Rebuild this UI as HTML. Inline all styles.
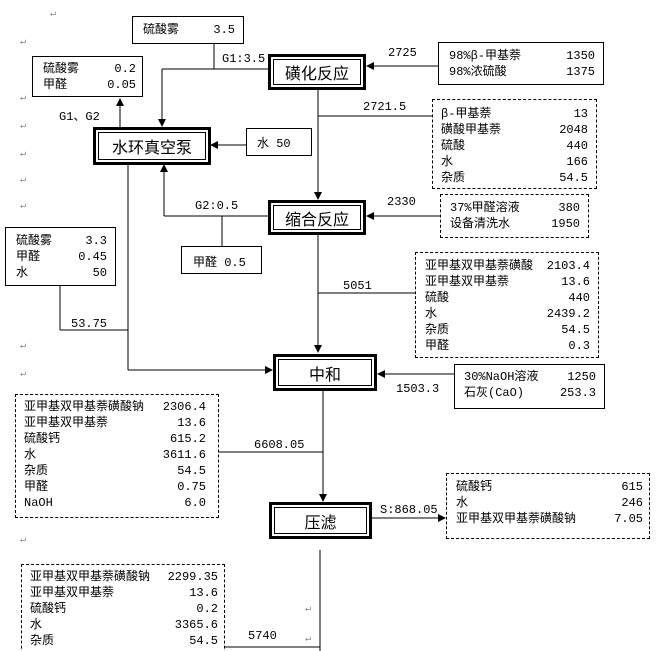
<!DOCTYPE html>
<html><head><meta charset="utf-8"><style>
body{margin:0;background:#fff;}
#c{position:relative;width:658px;height:651px;overflow:hidden;font-family:"Liberation Mono","Noto Sans CJK SC",monospace;font-size:12px;color:#000;}
.b{position:absolute;box-sizing:border-box;border:1px solid #000;background:#fff;}
.d{border:1px dashed #000;}
.r{display:flex;justify-content:space-between;line-height:16px;white-space:nowrap;}
.t{position:absolute;white-space:nowrap;line-height:14px;}
.dbl{position:absolute;box-sizing:border-box;border:3px solid #000;background:#fff;}
.dbl>div{position:absolute;left:2px;top:2px;right:2px;bottom:2px;border:1px solid #000;display:flex;align-items:center;justify-content:center;font-family:"Noto Sans CJK SC",sans-serif;font-size:16px;}
.m{color:#888;font-size:10px;}
</style></head><body><div id="c">
<svg width="658" height="651" style="position:absolute;left:0;top:0">
<defs><marker id="a" markerWidth="8" markerHeight="8" refX="7" refY="4" orient="auto" markerUnits="userSpaceOnUse"><path d="M0,0 L8,4 L0,8z" fill="#000"/></marker></defs>
<g stroke="#000" stroke-width="1" fill="none">
<line x1="318" y1="89" x2="318" y2="199" marker-end="url(#a)"/>
<line x1="318" y1="116" x2="432" y2="116"/>
<line x1="268" y1="69" x2="162" y2="69"/>
<line x1="162" y1="69" x2="162" y2="126" marker-end="url(#a)"/>
<line x1="214" y1="44" x2="214" y2="69"/>
<line x1="120" y1="127" x2="120" y2="99" marker-end="url(#a)"/>
<line x1="246" y1="145" x2="211" y2="145" marker-end="url(#a)"/>
<line x1="268" y1="216" x2="164" y2="216"/>
<line x1="164" y1="216" x2="164" y2="165" marker-end="url(#a)"/>
<line x1="222" y1="216" x2="222" y2="246"/>
<line x1="438" y1="66" x2="367" y2="66" marker-end="url(#a)"/>
<line x1="440" y1="216" x2="367" y2="216" marker-end="url(#a)"/>
<line x1="318" y1="234" x2="318" y2="352" marker-end="url(#a)"/>
<line x1="318" y1="293" x2="415" y2="293"/>
<line x1="128" y1="164" x2="128" y2="370"/>
<line x1="128" y1="370" x2="272" y2="370" marker-end="url(#a)"/>
<line x1="60" y1="286" x2="60" y2="330"/>
<line x1="60" y1="330" x2="128" y2="330"/>
<line x1="454" y1="374" x2="378" y2="374" marker-end="url(#a)"/>
<line x1="323" y1="390" x2="323" y2="501" marker-end="url(#a)"/>
<line x1="219" y1="452" x2="323" y2="452"/>
<line x1="372" y1="518" x2="445" y2="518" marker-end="url(#a)"/>
<line x1="320" y1="550" x2="320" y2="651"/>
<line x1="225" y1="647" x2="320" y2="647"/>
<line x1="22" y1="511" x2="158" y2="511"/>
<line x1="167" y1="511" x2="207" y2="511"/>
</g></svg>

<div class="b" style="left:132px;top:16px;width:112px;height:28px;padding:5px 8px 0 10px"><div class="r"><span>硫酸雾</span><span>3.5</span></div></div>
<div class="b" style="left:32px;top:56px;width:111px;height:41px;padding:4px 6px 0 10px"><div class="r"><span>硫酸雾</span><span>0.2</span></div><div class="r"><span>甲醛</span><span>0.05</span></div></div>
<div class="dbl" style="left:268px;top:54px;width:98px;height:36px"><div>磺化反应</div></div>
<div class="b" style="left:438px;top:42px;width:166px;height:43px;padding:5px 8px 0 10px"><div class="r"><span>98%β-甲基萘</span><span>1350</span></div><div class="r"><span>98%浓硫酸</span><span>1375</span></div></div>
<div class="dbl" style="left:93px;top:127px;width:118px;height:38px"><div>水环真空泵</div></div>
<div class="b" style="left:246px;top:128px;width:66px;height:28px;padding:5px 0 0 10px">水 50</div>
<div class="b d" style="left:432px;top:99px;width:165px;height:90px;padding:6px 8px 0 8px"><div class="r"><span>β-甲基萘</span><span>13</span></div><div class="r"><span>磺酸甲基萘</span><span>2048</span></div><div class="r"><span>硫酸</span><span>440</span></div><div class="r"><span>水</span><span>166</span></div><div class="r"><span>杂质</span><span>54.5</span></div></div>
<div class="dbl" style="left:268px;top:200px;width:98px;height:35px"><div>缩合反应</div></div>
<div class="b d" style="left:440px;top:194px;width:149px;height:44px;padding:5px 8px 0 9px"><div class="r"><span>37%甲醛溶液</span><span>380</span></div><div class="r"><span>设备清洗水</span><span>1950</span></div></div>
<div class="b" style="left:181px;top:246px;width:81px;height:28px;padding:6px 0 0 11px">甲醛 0.5</div>
<div class="b" style="left:5px;top:227px;width:111px;height:59px;padding:5px 8px 0 10px"><div class="r"><span>硫酸雾</span><span>3.3</span></div><div class="r"><span>甲醛</span><span>0.45</span></div><div class="r"><span>水</span><span>50</span></div></div>
<div class="b d" style="left:415px;top:252px;width:184px;height:106px;padding:5px 8px 0 9px"><div class="r"><span>亚甲基双甲基萘磺酸</span><span>2103.4</span></div><div class="r"><span>亚甲基双甲基萘</span><span>13.6</span></div><div class="r"><span>硫酸</span><span>440</span></div><div class="r"><span>水</span><span>2439.2</span></div><div class="r"><span>杂质</span><span>54.5</span></div><div class="r"><span>甲醛</span><span>0.3</span></div></div>
<div class="dbl" style="left:273px;top:354px;width:104px;height:37px"><div>中和</div></div>
<div class="b" style="left:454px;top:364px;width:151px;height:45px;padding:4px 8px 0 9px"><div class="r"><span>30%NaOH溶液</span><span>1250</span></div><div class="r"><span>石灰(CaO)</span><span>253.3</span></div></div>
<div class="b d" style="left:15px;top:394px;width:204px;height:124px;padding:4px 12px 0 8px"><div class="r"><span>亚甲基双甲基萘磺酸钠</span><span>2306.4</span></div><div class="r"><span>亚甲基双甲基萘</span><span>13.6</span></div><div class="r"><span>硫酸钙</span><span>615.2</span></div><div class="r"><span>水</span><span>3611.6</span></div><div class="r"><span>杂质</span><span>54.5</span></div><div class="r"><span>甲醛</span><span>0.75</span></div><div class="r"><span>NaOH</span><span>6.0</span></div></div>
<div class="dbl" style="left:269px;top:502px;width:103px;height:37px"><div>压滤</div></div>
<div class="b d" style="left:446px;top:473px;width:204px;height:66px;padding:5px 6px 0 9px"><div class="r"><span>硫酸钙</span><span>615</span></div><div class="r"><span>水</span><span>246</span></div><div class="r"><span>亚甲基双甲基萘磺酸钠</span><span>7.05</span></div></div>
<div class="b d" style="left:21px;top:564px;width:204px;height:100px;padding:4px 6px 0 8px"><div class="r"><span>亚甲基双甲基萘磺酸钠</span><span>2299.35</span></div><div class="r"><span>亚甲基双甲基萘</span><span>13.6</span></div><div class="r"><span>硫酸钙</span><span>0.2</span></div><div class="r"><span>水</span><span>3365.6</span></div><div class="r"><span>杂质</span><span>54.5</span></div></div>

<div class="t" style="left:222px;top:52px">G1:3.5</div>
<div class="t" style="left:59px;top:110px">G1、G2</div>
<div class="t" style="left:388px;top:46px">2725</div>
<div class="t" style="left:363px;top:100px">2721.5</div>
<div class="t" style="left:195px;top:199px">G2:0.5</div>
<div class="t" style="left:387px;top:195px">2330</div>
<div class="t" style="left:343px;top:279px">5051</div>
<div class="t" style="left:71px;top:317px">53.75</div>
<div class="t" style="left:396px;top:382px">1503.3</div>
<div class="t" style="left:254px;top:438px">6608.05</div>
<div class="t" style="left:380px;top:503px">S:868.05</div>
<div class="t" style="left:248px;top:629px">5740</div>
<div class="t m" style="left:50px;top:8px">↵</div>
<div class="t m" style="left:20px;top:36px">↵</div>
<div class="t m" style="left:20px;top:92px">↵</div>
<div class="t m" style="left:20px;top:120px">↵</div>
<div class="t m" style="left:20px;top:148px">↵</div>
<div class="t m" style="left:20px;top:174px">↵</div>
<div class="t m" style="left:20px;top:200px">↵</div>
<div class="t m" style="left:20px;top:340px">↵</div>
<div class="t m" style="left:20px;top:368px">↵</div>
<div class="t m" style="left:20px;top:534px">↵</div>
<div class="t m" style="left:305px;top:603px">↵</div>
<div class="t m" style="left:305px;top:633px">↵</div>
</div></body></html>
